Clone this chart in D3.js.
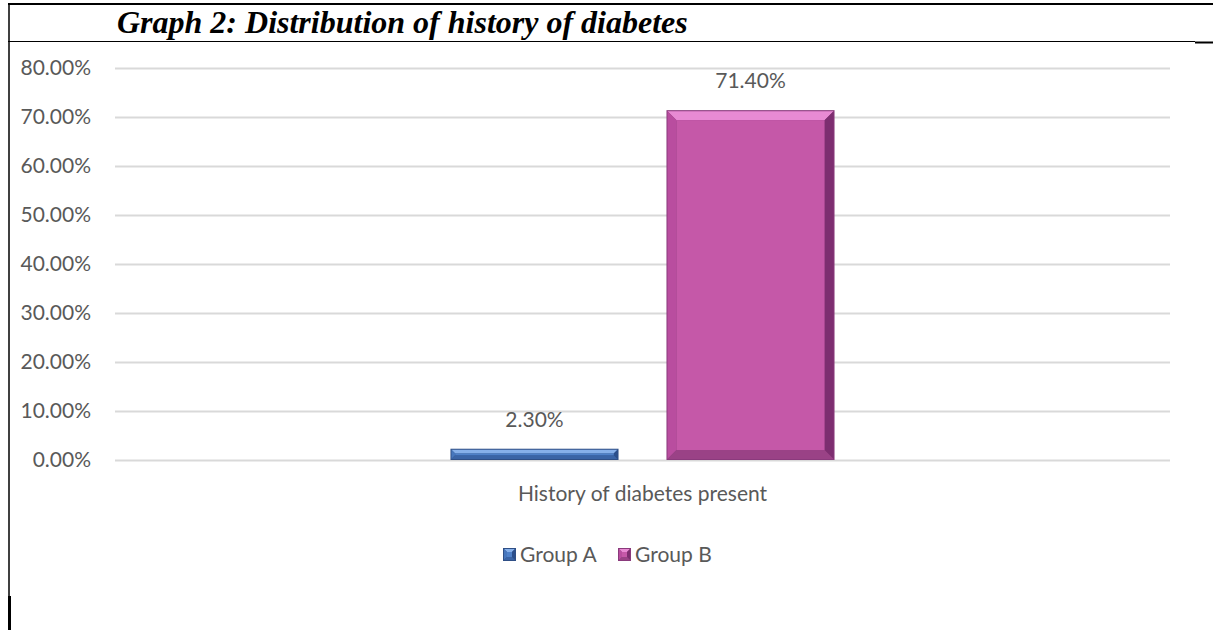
<!DOCTYPE html>
<html>
<head>
<meta charset="utf-8">
<script src="https://cdn.jsdelivr.net/npm/d3@7"></script>
<style>
  body { margin: 0; background: #fff; }
  text { font-family: Lato, "Open Sans", sans-serif; fill: #595959; }
  .title { font-family: "Liberation Serif", "Times New Roman", serif; font-weight: bold; font-style: italic; fill: #000; }
</style>
</head>
<body>
<div id="chart"></div>
<script>
'use strict';

const categories = ["History of diabetes present"];
const groups = ["Group A", "Group B"];
const groupA = [2.3];
const groupB = [71.4];
const yTicks = [0, 10, 20, 30, 40, 50, 60, 70, 80];

const width = 1213;
const height = 630;
const margin = { top: 68, bottom: 170, left: 115, right: 43 };

// bevel palette per group: base, top (light), left, right (dark), bottom
const palette = {
    "Group A": { base: "#4f81c9", top: "#86b0ea", left: "#4777bd", right: "#2b4f8c", bottom: "#3a64a6", edge: "#2f4f86" },
    "Group B": { base: "#c558a8", top: "#e88ad3", left: "#b94d9f", right: "#7d2e70", bottom: "#9a4286", edge: "#8a3a7c" }
};

const data = categories.map((c, i) => ({
    category: c,
    values: [{ group: "Group A", value: groupA[i] }, { group: "Group B", value: groupB[i] }]
}));

const svg = d3.select("#chart").append("svg")
    .attr("width", width)
    .attr("height", height);

// document frame lines
svg.append("line").attr("x1", 8).attr("x2", width).attr("y1", 4).attr("y2", 4)
    .attr("stroke", "#000").attr("stroke-width", 2);
svg.append("line").attr("x1", 9).attr("x2", 9).attr("y1", 3).attr("y2", height)
    .attr("stroke", "#000").attr("stroke-width", 1.5);
svg.append("line").attr("x1", 9.5).attr("x2", 9.5).attr("y1", 596).attr("y2", height)
    .attr("stroke", "#000").attr("stroke-width", 3);
svg.append("line").attr("x1", 8).attr("x2", 1195).attr("y1", 41.5).attr("y2", 41.5)
    .attr("stroke", "#000").attr("stroke-width", 1);
svg.append("line").attr("x1", 1195).attr("x2", width).attr("y1", 42.5).attr("y2", 42.5)
    .attr("stroke", "#000").attr("stroke-width", 2);

svg.append("text")
    .attr("class", "title")
    .attr("x", 117)
    .attr("y", 33)
    .attr("font-size", 32)
    .text("Graph 2: Distribution of history of diabetes");

const yScale = d3.scaleLinear()
    .domain([0, 80])
    .range([height - margin.bottom, margin.top]);

const xScale = d3.scaleBand()
    .domain(categories)
    .range([margin.left, width - margin.right]);

const xInner = d3.scaleBand()
    .domain(groups)
    .range([0, xScale.bandwidth()])
    .paddingInner(0.222)
    .paddingOuter(1.553);

// gridlines + y labels
const yAxis = d3.axisLeft(yScale)
    .tickValues(yTicks)
    .tickSize(-(width - margin.left - margin.right))
    .tickPadding(24)
    .tickFormat(d => d.toFixed(2) + "%");

svg.append("g")
    .attr("class", "axis y-axis")
    .attr("transform", `translate(${margin.left},0)`)
    .call(yAxis)
    .call(g => g.select(".domain").remove())
    .call(g => g.selectAll(".tick line").attr("stroke", "#d9d9d9").attr("stroke-width", 2))
    .call(g => g.selectAll(".tick text").attr("font-size", 21).attr("fill", "#595959"));

// bevelled bar
function bevelBar(g, x, y, w, h, col, b) {
    b = Math.min(b, h / 3, w / 3);
    g.append("rect").attr("x", x).attr("y", y).attr("width", w).attr("height", h).attr("fill", col.edge);
    const x0 = x + 1, y0 = y + 1, x1 = x + w - 1, y1 = y + h - 1;
    g.append("polygon").attr("fill", col.top)
        .attr("points", [[x0, y0], [x1, y0], [x1 - b, y0 + b], [x0 + b, y0 + b]].join(" "));
    g.append("polygon").attr("fill", col.left)
        .attr("points", [[x0, y0], [x0 + b, y0 + b], [x0 + b, y1 - b], [x0, y1]].join(" "));
    g.append("polygon").attr("fill", col.right)
        .attr("points", [[x1, y0], [x1, y1], [x1 - b, y1 - b], [x1 - b, y0 + b]].join(" "));
    g.append("polygon").attr("fill", col.bottom)
        .attr("points", [[x0, y1], [x0 + b, y1 - b], [x1 - b, y1 - b], [x1, y1]].join(" "));
    g.append("rect").attr("x", x0 + b).attr("y", y0 + b)
        .attr("width", Math.max(0, x1 - x0 - 2 * b)).attr("height", Math.max(0, y1 - y0 - 2 * b))
        .attr("fill", col.base);
}

const catG = svg.selectAll("g.cat")
    .data(data)
    .join("g")
    .attr("class", "cat")
    .attr("transform", d => `translate(${xScale(d.category)},0)`);

catG.each(function (d) {
    const g = d3.select(this);
    d.values.forEach(v => {
        const bx = xInner(v.group);
        const by = yScale(v.value);
        const bh = yScale(0) - by;
        bevelBar(g.append("g"), bx, by, xInner.bandwidth(), bh, palette[v.group], 9);
        g.append("text")
            .attr("x", bx + xInner.bandwidth() / 2)
            .attr("y", by - 22)
            .attr("text-anchor", "middle")
            .attr("font-size", 21)
            .text(v.value.toFixed(2) + "%");
    });
    g.append("text")
        .attr("x", xScale.bandwidth() / 2)
        .attr("y", yScale(0) + 41)
        .attr("text-anchor", "middle")
        .attr("font-size", 21)
        .text(d.category);
});

// legend (centred on the whole chart area, like Excel)
const legendX = [503, 618];
const legend = svg.selectAll("g.legend")
    .data(groups)
    .join("g")
    .attr("class", "legend")
    .attr("transform", (d, i) => `translate(${legendX[i]},548)`);

legend.each(function (d) {
    bevelBar(d3.select(this), 0, 0, 13, 13, palette[d], 3);
});
legend.append("text")
    .attr("x", 17)
    .attr("y", 14)
    .attr("font-size", 21)
    .text(d => d);
</script>
</body>
</html>
